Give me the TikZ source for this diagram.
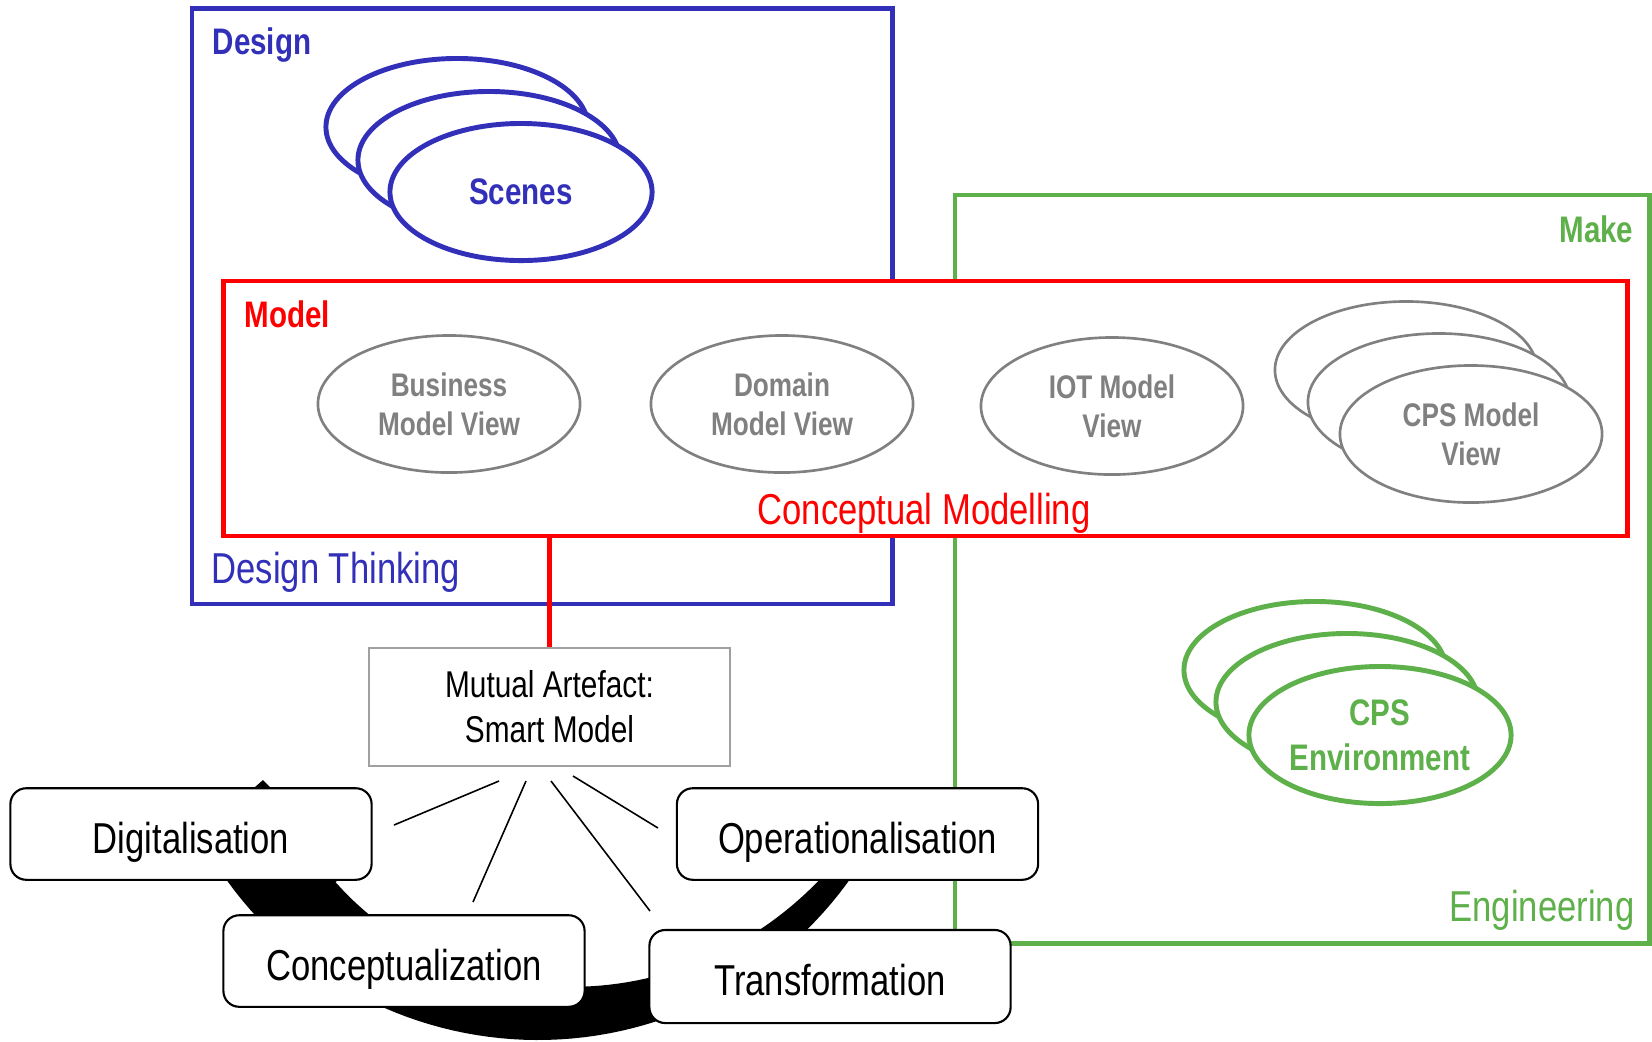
\documentclass[tikz,border=0pt]{standalone}
\usepackage{fontspec}
\setmainfont{Liberation Sans}[FakeStretch=0.8]
\usetikzlibrary{shapes.geometric}
\definecolor{dblue}{RGB}{50,48,185}
\definecolor{mgreen}{RGB}{94,176,74}
\definecolor{mgrey}{RGB}{128,128,128}
\definecolor{lgrey}{RGB}{160,160,160}

\begin{document}
\begin{tikzpicture}[x=0.01cm, y=-0.01cm,
  frame/.style={draw, line width=1.3pt, inner sep=0pt, fill=white},
  blob/.style={ellipse, fill=white, inner sep=0pt, align=center,
    minimum width=2.62cm, minimum height=1.37cm},
  scene/.style={blob, draw=dblue, line width=1.4pt, text=dblue,
    font=\bfseries\fontsize{10.5}{12.8}\selectfont},
  envblob/.style={blob, draw=mgreen, line width=1.4pt, text=mgreen,
    font=\bfseries\fontsize{10.5}{12.8}\selectfont},
  view/.style={blob, draw=mgrey, line width=0.75pt, text=mgrey,
    font=\bfseries\fontsize{9.3}{11.05}\selectfont},
  stage/.style={draw=black, line width=0.6pt, rounded corners=4.5pt, fill=white,
    minimum width=3.61cm, minimum height=0.915cm, inner sep=0pt,
    font=\fontsize{12.3}{14}\selectfont, text height=10.8pt, text depth=0pt},
  boldlbl/.style={font=\bfseries\fontsize{10.5}{12}\selectfont, inner sep=0pt},
  plainlbl/.style={font=\fontsize{12.3}{14}\selectfont, inner sep=0pt},
  thin/.style={draw=black, line width=0.45pt}
]
\useasboundingbox (0,0) rectangle (1652,1041);

% outer frames
\node[frame, draw=dblue, minimum width=7cm, minimum height=5.955cm] (design) at (542,306.2) {};
\node[frame, draw=mgreen, minimum width=6.94cm, minimum height=7.48cm] (make) at (1302,569) {};

% scenes stack
\node[scene] (sc3) at (457,127) {};
\node[scene] (sc2) at (489,160) {};
\node[scene] (sc1) at (521,192) {Scenes};

% CPS environment stack
\node[envblob] (env3) at (1315,670) {};
\node[envblob] (env2) at (1347,702) {};
\node[envblob] (env1) at (1380,735) {CPS\\Environment};

% model frame with its views
\node[frame, draw=red, minimum width=14.03cm, minimum height=2.55cm] (model) at (925.5,408.5) {};
\node[view] (bmv) at (449,404) {Business\\Model View};
\node[view] (dmv) at (782,404) {Domain\\Model View};
\node[view] (iot) at (1112,406) {IOT Model\\View};
\node[view] (cps3) at (1406,370) {};
\node[view] (cps2) at (1439,402) {};
\node[view] (cps1) at (1471,434) {CPS Model\\View};

% frame labels
\node[boldlbl, text=dblue, anchor=base west] (designlbl) at (212,54) {Design};
\node[boldlbl, text=red, anchor=base west] (modellbl) at (244,327) {Model};
\node[boldlbl, text=mgreen, anchor=base east] (makelbl) at (1634,242) {Make};
\node[plainlbl, text=dblue, anchor=base west] (dtlbl) at (211,583) {Design Thinking};
\node[plainlbl, text=red, anchor=base] (cmlbl) at (924,524) {Conceptual Modelling};
\node[plainlbl, text=mgreen, anchor=base east] (englbl) at (1635,921) {Engineering};

% cycle arrow behind the stages
\fill[black]
  plot[domain=22:146, samples=70, variable=\t] ({538+383*cos(\t)}, {657+383*sin(\t)})
  -- (165,866) -- (263,780) -- (352,870)
  -- plot[domain=132:22, samples=70, variable=\t]
     ({538+(367-0.6*(\t-25))*cos(\t)}, {657+(367-0.6*(\t-25))*sin(\t)})
  -- cycle;

% stages
\node[stage] (dig) at (191,834) {Digitalisation};
\node[stage] (con) at (404,961) {Conceptualization};
\node[stage] (ope) at (857.5,834) {Operationalisation};
\node[stage, minimum height=0.93cm] (tra) at (830,976.5) {Transformation};

% mutual artefact
\node[draw=lgrey, line width=0.5pt, fill=white, inner sep=0pt,
      minimum width=3.61cm, minimum height=1.18cm, align=center,
      font=\fontsize{10.6}{12.8}\selectfont] (ma) at (549.5,707) {Mutual Artefact:\\Smart Model};

\draw[red, line width=1.3pt] (ma.north) -- (ma.north |- model.south);

% spokes from the artefact towards the stages
\coordinate (s1a) at (499,781); \coordinate (s1b) at (394,825);
\coordinate (s2a) at (526,781); \coordinate (s2b) at (473,902);
\coordinate (s3a) at (551,781); \coordinate (s3b) at (650,911);
\coordinate (s4a) at (573,776); \coordinate (s4b) at (658,828);
\draw[thin] (s1a) -- (s1b);
\draw[thin] (s2a) -- (s2b);
\draw[thin] (s3a) -- (s3b);
\draw[thin] (s4a) -- (s4b);
\end{tikzpicture}
\end{document}
